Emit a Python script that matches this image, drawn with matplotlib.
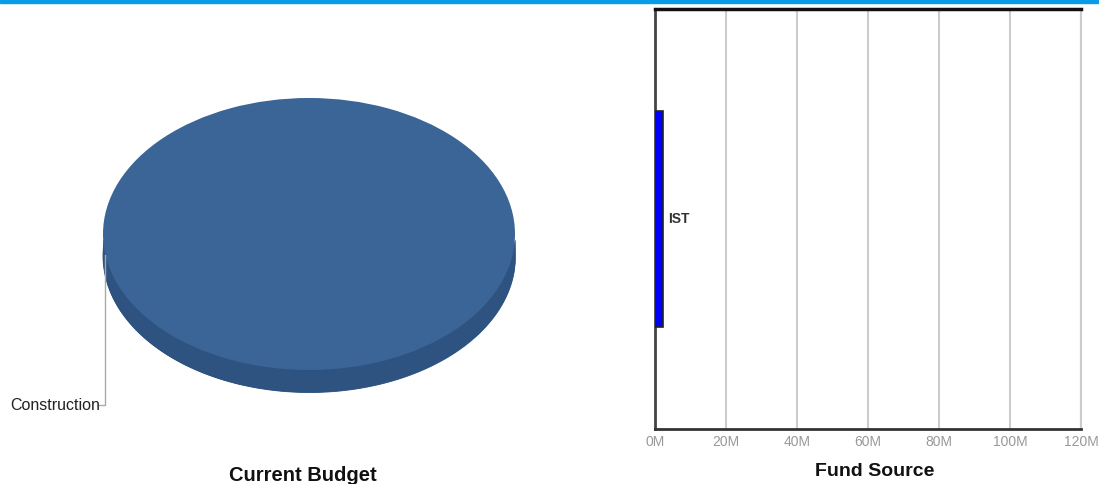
import numpy as np
import matplotlib
matplotlib.use("Agg")
import matplotlib.pyplot as plt
from matplotlib.patches import Rectangle

plt.rcParams['font.family'] = ['Liberation Sans', 'DejaVu Sans']

# data
budget_labels = ["Construction"]
budget_values = [2.25e6]
fund_labels = ["IST"]
fund_values = [2.25e6]
xticks = [0, 20e6, 40e6, 60e6, 80e6, 100e6, 120e6]
xtick_labels = ["0M", "20M", "40M", "60M", "80M", "100M", "120M"]

W, H = 1099, 484
fig = plt.figure(figsize=(W / 100, H / 100), dpi=100)

# top blue rule
fig.patches.append(Rectangle((0, 1 - 3 / H), 1, 3 / H, transform=fig.transFigure,
                             color="#0a9be8", zorder=5))

# ---- 3D-ish pie ----
top_col = "#3a6596"
side_col = "#2e5380"
depth = 22 / 136
pax = fig.add_axes([103 / W, (H - 392) / H, 412 / W, 294 / H])
pax.pie(budget_values, colors=[side_col], center=(0, -depth), radius=1,
        startangle=90, wedgeprops=dict(linewidth=0.6, edgecolor=side_col))
xs = np.linspace(-0.999, 0.999, 400)
edge = -np.sqrt(1 - xs ** 2)
pax.fill_between(xs, edge - depth, edge, color=side_col, lw=0.6,
                 edgecolor=side_col)
pax.pie(budget_values, colors=[top_col], center=(0, 0), radius=1,
        startangle=90, wedgeprops=dict(linewidth=0))
pax.set_aspect("auto")
pax.set_xlim(-1, 1)
pax.set_ylim(-1 - depth, 1)
pax.axis("off")

# leader line + label
lx = (105 - 309) / 206
y0 = (234 - 255) / 136
y1 = (234 - 405) / 136
pax.plot([lx, lx, (98 - 309) / 206], [y0, y1, y1], color="#aaaaaa", lw=1,
         clip_on=False)
pax.text((100 - 309) / 206, y1, budget_labels[0], ha="right", va="center",
         fontsize=11.5, color="#222222", clip_on=False)

fig.text(303 / W, 1 - 481 / H, "Current Budget", ha="center", va="baseline",
         fontsize=14.5, fontweight="bold", color="#111111")

# ---- bar chart ----
bax = fig.add_axes([655 / W, (H - 429) / H, 426 / W, 420 / H])
bax.barh([0], fund_values, height=0.515, color="#0000ff", edgecolor="#222222",
         linewidth=1.2, zorder=3)
bax.set_ylim(-0.5, 0.5)
bax.set_xlim(0, 120e6)
bax.set_xticks(xticks)
bax.set_xticklabels(xtick_labels)
bax.set_yticks([])
bax.tick_params(axis="x", length=0, pad=4, labelsize=10, labelcolor="#999999")
bax.grid(axis="x", color="#cccccc", lw=1.5, zorder=0)
bax.spines["top"].set_color("#111111")
bax.spines["top"].set_linewidth(2.5)
bax.spines["left"].set_color("#444444")
bax.spines["left"].set_linewidth(2)
bax.spines["bottom"].set_color("#333333")
bax.spines["bottom"].set_linewidth(2)
bax.spines["right"].set_color("#cccccc")
bax.spines["right"].set_linewidth(1.5)
for v, lab, i in zip(fund_values, fund_labels, range(len(fund_values))):
    bax.annotate(lab, xy=(v, i), xytext=(4, 0), textcoords="offset points",
                 ha="left", va="center", fontsize=10, fontweight="bold",
                 color="#333333")

fig.text(875 / W, 1 - 471 / H, "Fund Source", ha="center", va="center",
         fontsize=14, fontweight="bold", color="#111111")

fig.savefig("out.png", dpi=100)
